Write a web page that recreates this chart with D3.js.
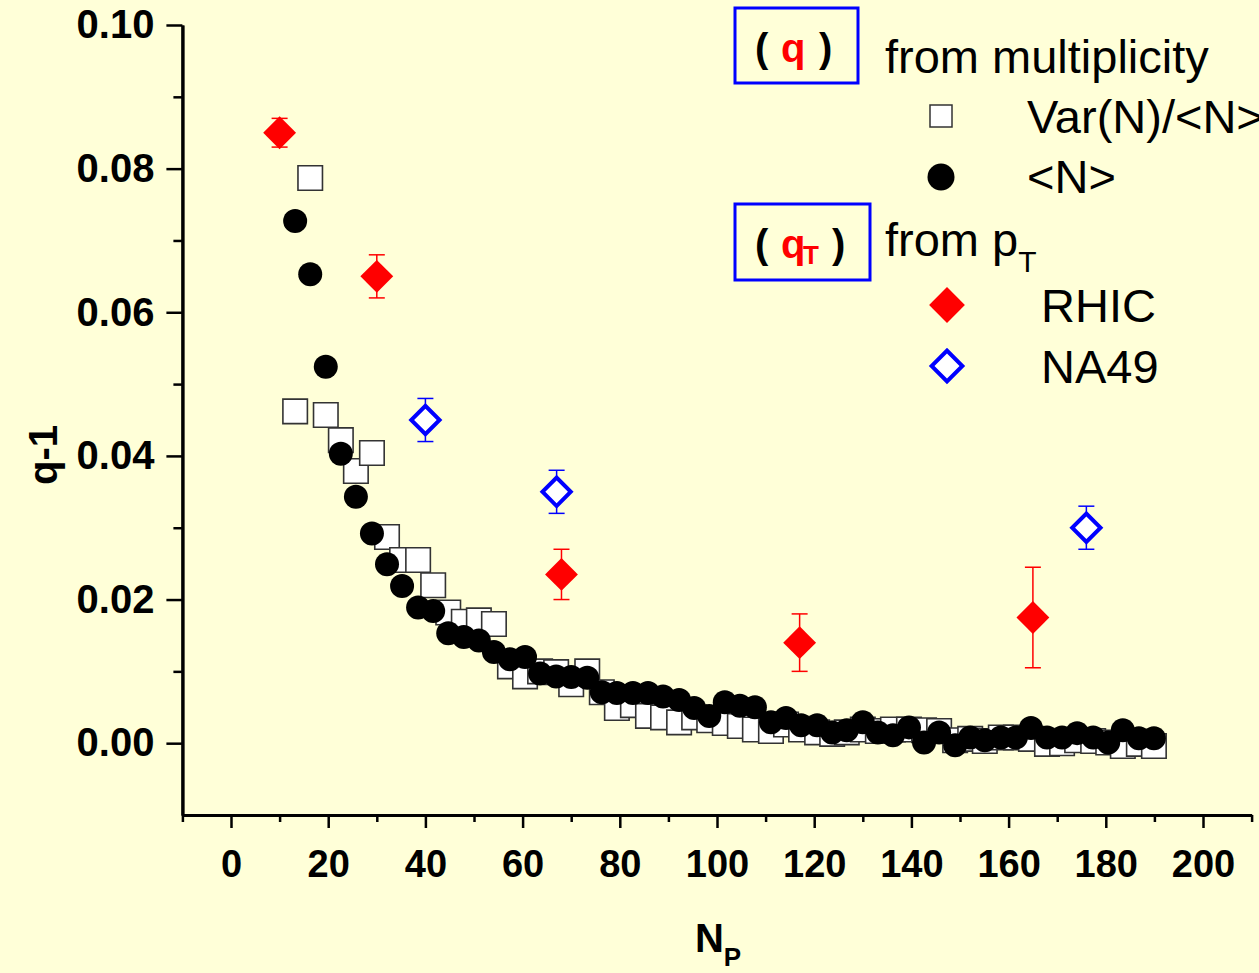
<!DOCTYPE html>
<html lang="en">
<head>
    <meta charset="UTF-8">
    <title>q-1 vs Np</title>
    <script src="https://cdnjs.cloudflare.com/ajax/libs/d3/7.8.2/d3.min.js"></script>
    <style>
        body{
            margin: 0;
            background: #ffffd8;
        }
        text{
            font-family: "Liberation Sans", Arial, sans-serif;
        }
        .tick text{
            font-family: "Liberation Sans", Arial, sans-serif;
            font-weight: bold;
            font-size: 38px;
            fill: #000;
        }
        #y-axis .tick text{
            font-size: 40px;
        }
    </style>
</head>
<body>
    <div class="container"></div>
    <script>
        //data
        let np = [13.2, 16.3, 19.5, 22.6, 25.7, 29.0, 32.1, 35.2, 38.5, 41.6, 44.7, 47.9, 51.0, 54.1, 57.4, 60.5,
                  63.6, 66.9, 70.0, 73.3, 76.3, 79.4, 82.7, 85.8, 88.9, 92.2, 95.3, 98.4, 101.6, 104.7, 107.8,
                  111.1, 114.2, 117.3, 120.6, 123.7, 126.7, 130.0, 133.1, 136.2, 139.5, 142.6, 145.7, 149.0,
                  152.1, 155.1, 158.4, 161.5, 164.6, 167.9, 171.0, 174.1, 177.4, 180.5, 183.5, 186.8, 189.9];

        // q-1 from Var(N)/<N>  (open squares)
        let varN = [0.0462, 0.0787, 0.0457, 0.0422, 0.0379, 0.0404, 0.0287, 0.0255, 0.0255, 0.0220, 0.0182,
                    0.0169, 0.0171, 0.0166, 0.0107, 0.0093, 0.0100, 0.0099, 0.0082, 0.0100, 0.0071, 0.0049,
                    0.0053, 0.0038, 0.0036, 0.0029, 0.0036, 0.0032, 0.0028, 0.0024, 0.0019, 0.0017, 0.0026,
                    0.0019, 0.0015, 0.0013, 0.0015, 0.0019, 0.0017, 0.0019, 0.0019, 0.0018, 0.0017, 0.0004,
                    0.0006, 0.0003, 0.0008, 0.0008, 0.0006, -0.0001, 0.0000, 0.0004, 0.0003, 0.0001, -0.0004,
                    -0.0001, -0.0004];

        // q-1 from <N>  (filled circles)
        let meanN = [0.0727, 0.0653, 0.0524, 0.0403, 0.0343, 0.0292, 0.0249, 0.0219, 0.0189, 0.0184, 0.0153,
                     0.0148, 0.0143, 0.0127, 0.0117, 0.0120, 0.0097, 0.0093, 0.0092, 0.0091, 0.0071, 0.0070,
                     0.0070, 0.0070, 0.0065, 0.0060, 0.0049, 0.0038, 0.0057, 0.0052, 0.0050, 0.0029, 0.0035,
                     0.0025, 0.0025, 0.0015, 0.0018, 0.0029, 0.0015, 0.0011, 0.0022, 0.0001, 0.0015, -0.0003,
                     0.0008, 0.0004, 0.0008, 0.0008, 0.0021, 0.0008, 0.0008, 0.0014, 0.0008, 0.0001, 0.0018,
                     0.0007, 0.0007];

        // q_T from pT
        let rhicNp = [10, 30, 68, 117, 165];
        let rhicQ = [0.085, 0.065, 0.0235, 0.014, 0.0175];
        let rhicHi = [0.087, 0.068, 0.027, 0.018, 0.0245];
        let rhicLo = [0.083, 0.062, 0.020, 0.010, 0.0105];

        let na49Np = [40, 67, 176];
        let na49Q = [0.045, 0.035, 0.030];
        let na49Hi = [0.048, 0.038, 0.033];
        let na49Lo = [0.042, 0.032, 0.027];

        let xMajor = [0, 20, 40, 60, 80, 100, 120, 140, 160, 180, 200];
        let xMinor = [-10, 10, 30, 50, 70, 90, 110, 130, 150, 170, 190, 210];
        let yMajor = [0.00, 0.02, 0.04, 0.06, 0.08, 0.10];
        let yMinor = [0.01, 0.03, 0.05, 0.07, 0.09];

        let width = 1259;
        let height = 973;

        let svg = d3.select('.container').append('svg')
            .attr('width', width).attr('height', height)

        svg.append('rect').attr('width', width).attr('height', height).attr('fill', '#ffffd8')

        let xScale = d3.scaleLinear().domain([-10, 210]).range([182.4, 1251.6])
        let yScale = d3.scaleLinear().domain([-0.01, 0.10]).range([815, 25])

        const setAxis = () => {
            let xMinorAxis = d3.axisBottom(xScale).tickValues(xMinor).tickSize(7).tickFormat('').tickSizeOuter(0)
            svg.append('g').attr('transform', `translate(0,${yScale(-0.01)})`).call(xMinorAxis)

            let xAxis = d3.axisBottom(xScale).tickValues(xMajor).tickSize(13).tickPadding(22)
                .tickFormat(d3.format('d')).tickSizeOuter(0)
            svg.append('g').attr('id', 'x-axis').attr('transform', `translate(0,${yScale(-0.01)})`).call(xAxis)

            let yMinorAxis = d3.axisLeft(yScale).tickValues(yMinor).tickSize(9).tickFormat('').tickSizeOuter(0)
            svg.append('g').attr('transform', `translate(${xScale(-10)},0)`).call(yMinorAxis)

            let yAxis = d3.axisLeft(yScale).tickValues(yMajor).tickSize(16).tickPadding(12)
                .tickFormat(d3.format('.2f')).tickSizeOuter(0)
            svg.append('g').attr('id', 'y-axis').attr('transform', `translate(${xScale(-10)},0)`).call(yAxis)

            svg.selectAll('.domain').attr('stroke', '#000').attr('stroke-width', 3)
            svg.selectAll('.tick line').attr('stroke', '#000').attr('stroke-width', 2.5)

            // axis titles
            svg.append('text')
                .attr('transform', 'translate(57,455) rotate(-90)')
                .attr('text-anchor', 'middle')
                .style('font-weight', 'bold').style('font-size', '40px')
                .text('q-1')

            let xt = svg.append('text')
                .attr('x', 718).attr('y', 952)
                .attr('text-anchor', 'middle')
                .style('font-weight', 'bold').style('font-size', '40px')
            xt.append('tspan').text('N')
            xt.append('tspan').attr('dy', 14).style('font-size', '26px').text('P')
        }

        const diamond = d3.symbol().type(d3.symbolSquare)

        const drawTheDots = () => {
            // Var(N)/<N> squares
            svg.append('g').selectAll('path')
                .data(np)
                .enter()
                .append('path')
                .attr('d', d3.symbol().type(d3.symbolSquare).size(600))
                .attr('transform', (d, i) => `translate(${xScale(d)},${yScale(varN[i])})`)
                .attr('fill', '#fff')
                .attr('stroke', '#333')
                .attr('stroke-width', 1.6)

            // <N> circles
            svg.append('g').selectAll('circle')
                .data(np)
                .enter()
                .append('circle')
                .attr('cx', (d) => xScale(d))
                .attr('cy', (d, i) => yScale(meanN[i]))
                .attr('r', 12)
                .attr('fill', '#000')

            // RHIC error bars + diamonds
            let rhic = svg.append('g')
            rhicNp.forEach((d, i) => {
                let x = xScale(d)
                rhic.append('line').attr('x1', x).attr('x2', x)
                    .attr('y1', yScale(rhicHi[i])).attr('y2', yScale(rhicLo[i]))
                    .attr('stroke', '#ff0000').attr('stroke-width', 1.5)
                ;[rhicHi[i], rhicLo[i]].forEach((v) => {
                    rhic.append('line').attr('x1', x - 8).attr('x2', x + 8)
                        .attr('y1', yScale(v)).attr('y2', yScale(v))
                        .attr('stroke', '#ff0000').attr('stroke-width', 1.5)
                })
            })
            rhic.selectAll('path')
                .data(rhicNp)
                .enter()
                .append('path')
                .attr('d', diamond.size(540))
                .attr('transform', (d, i) => `translate(${xScale(d)},${yScale(rhicQ[i])}) rotate(45)`)
                .attr('fill', '#ff0000')

            // NA49 error bars + open diamonds
            let na49 = svg.append('g')
            na49Np.forEach((d, i) => {
                let x = xScale(d)
                na49.append('line').attr('x1', x).attr('x2', x)
                    .attr('y1', yScale(na49Hi[i])).attr('y2', yScale(na49Lo[i]))
                    .attr('stroke', '#0000ff').attr('stroke-width', 1.5)
                ;[na49Hi[i], na49Lo[i]].forEach((v) => {
                    na49.append('line').attr('x1', x - 8).attr('x2', x + 8)
                        .attr('y1', yScale(v)).attr('y2', yScale(v))
                        .attr('stroke', '#0000ff').attr('stroke-width', 1.5)
                })
            })
            na49.selectAll('path')
                .data(na49Np)
                .enter()
                .append('path')
                .attr('d', d3.symbol().type(d3.symbolSquare).size(400))
                .attr('transform', (d, i) => `translate(${xScale(d)},${yScale(na49Q[i])}) rotate(45)`)
                .attr('fill', '#fff')
                .attr('stroke', '#0000ff')
                .attr('stroke-width', 4)
        }

        const makeLegend = () => {
            let lg = svg.append('g').attr('class', 'legend')

            lg.append('rect').attr('x', 735).attr('y', 8).attr('width', 123).attr('height', 75)
                .attr('fill', 'none').attr('stroke', '#0000ff').attr('stroke-width', 3)
            let t1 = lg.append('text').attr('y', 62)
                .style('font-weight', 'bold').style('font-size', '40px')
            t1.append('tspan').attr('x', 755).text('(')
            t1.append('tspan').attr('x', 781).attr('fill', '#ff0000').text('q')
            t1.append('tspan').attr('x', 819).text(')')

            lg.append('text').attr('x', 885).attr('y', 73).style('font-size', '47px').text('from multiplicity')

            lg.append('rect').attr('x', 930).attr('y', 105).attr('width', 22).attr('height', 22)
                .attr('fill', '#fff').attr('stroke', '#333').attr('stroke-width', 1.5)
            lg.append('text').attr('x', 1027).attr('y', 133).style('font-size', '47px').text('Var(N)/<N>')

            lg.append('circle').attr('cx', 941).attr('cy', 177).attr('r', 13.5).attr('fill', '#000')
            lg.append('text').attr('x', 1027).attr('y', 193).style('font-size', '47px').text('<N>')

            lg.append('rect').attr('x', 735).attr('y', 204).attr('width', 135).attr('height', 76)
                .attr('fill', 'none').attr('stroke', '#0000ff').attr('stroke-width', 3)
            let t2 = lg.append('text').attr('y', 258)
                .style('font-weight', 'bold').style('font-size', '40px')
            t2.append('tspan').attr('x', 755).text('(')
            t2.append('tspan').attr('x', 781).attr('fill', '#ff0000').text('q')
            t2.append('tspan').attr('x', 803).attr('dy', 6).attr('fill', '#ff0000').style('font-size', '26px').text('T')
            t2.append('tspan').attr('x', 832).attr('dy', -6).text(')')

            let t3 = lg.append('text').attr('x', 885).attr('y', 256).style('font-size', '47px')
            t3.append('tspan').text('from p')
            t3.append('tspan').attr('dy', 16).style('font-size', '30px').text('T')

            lg.append('path').attr('d', diamond.size(640))
                .attr('transform', 'translate(947,305) rotate(45)').attr('fill', '#ff0000')
            lg.append('text').attr('x', 1041).attr('y', 322).style('font-size', '47px').text('RHIC')

            lg.append('path').attr('d', d3.symbol().type(d3.symbolSquare).size(470))
                .attr('transform', 'translate(947,366) rotate(45)')
                .attr('fill', '#fff').attr('stroke', '#0000ff').attr('stroke-width', 4)
            lg.append('text').attr('x', 1041).attr('y', 383).style('font-size', '47px').text('NA49')
        }

        setAxis();
        drawTheDots();
        makeLegend();
    </script>
</body>
</html>
